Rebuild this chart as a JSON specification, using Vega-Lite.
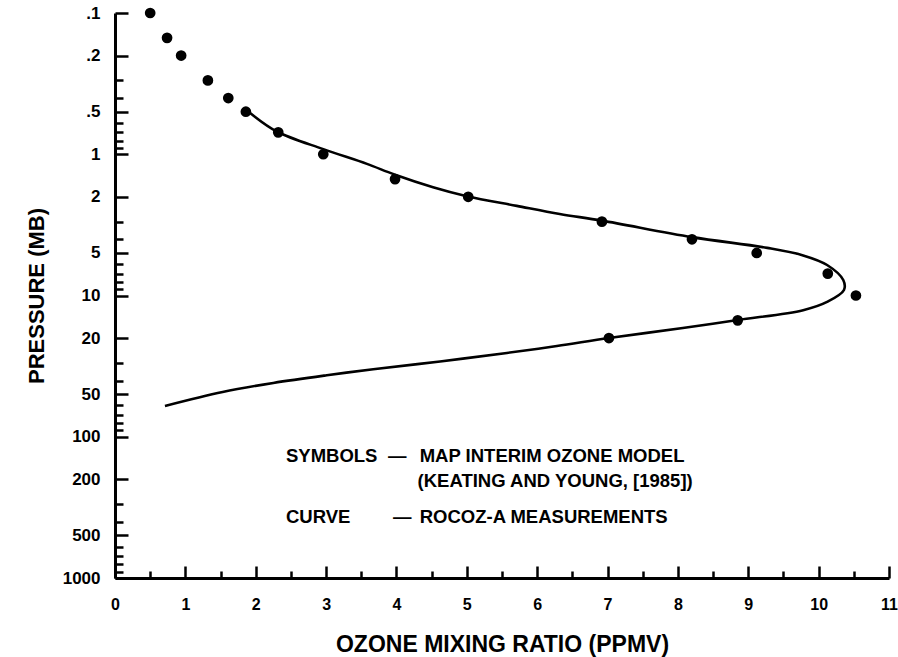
{
  "$schema": "https://vega.github.io/schema/vega-lite/v6.json",
  "width": 774,
  "height": 565,
  "autosize": {"type": "none"},
  "padding": {"left": 115, "top": 13, "right": 9, "bottom": 79},
  "background": "white",
  "config": {
    "view": {"stroke": null},
    "font": "Liberation Sans",
    "axis": {
      "grid": false,
      "domainColor": "black",
      "domainWidth": 3,
      "tickColor": "black",
      "tickWidth": 2.5,
      "labelColor": "black",
      "labelFont": "Liberation Sans",
      "labelFontWeight": "bold",
      "titleColor": "black",
      "titleFont": "Liberation Sans",
      "titleFontWeight": "bold",
      "titleFontSize": 23
    }
  },
  "datasets": {
    "model": [
      {"x": 0.5, "p": 0.1}, {"x": 0.74, "p": 0.15}, {"x": 0.94, "p": 0.2},
      {"x": 1.32, "p": 0.3}, {"x": 1.61, "p": 0.4}, {"x": 1.86, "p": 0.5},
      {"x": 2.32, "p": 0.7}, {"x": 2.96, "p": 1}, {"x": 3.98, "p": 1.5},
      {"x": 5.02, "p": 2}, {"x": 6.92, "p": 3}, {"x": 8.2, "p": 4},
      {"x": 9.12, "p": 5}, {"x": 10.13, "p": 7}, {"x": 10.53, "p": 10},
      {"x": 8.85, "p": 15}, {"x": 7.02, "p": 20}
    ],
    "rocoz": [
      {"x": 1.92, "p": 0.51}, {"x": 2.3, "p": 0.69}, {"x": 2.96, "p": 0.92},
      {"x": 3.58, "p": 1.17}, {"x": 3.97, "p": 1.39}, {"x": 4.52, "p": 1.71},
      {"x": 5.0, "p": 1.98}, {"x": 5.71, "p": 2.32}, {"x": 6.32, "p": 2.65},
      {"x": 6.92, "p": 2.95}, {"x": 8.2, "p": 3.86}, {"x": 9.27, "p": 4.6},
      {"x": 9.78, "p": 5.2}, {"x": 10.12, "p": 6.08}, {"x": 10.35, "p": 7.77},
      {"x": 10.36, "p": 9.14}, {"x": 10.12, "p": 11.1}, {"x": 9.78, "p": 12.7},
      {"x": 8.85, "p": 14.9}, {"x": 8.07, "p": 17.0}, {"x": 7.02, "p": 20.0},
      {"x": 6.28, "p": 22.8}, {"x": 5.57, "p": 25.5}, {"x": 4.62, "p": 29.3},
      {"x": 3.67, "p": 33.3}, {"x": 3.01, "p": 36.7}, {"x": 2.25, "p": 41.6},
      {"x": 1.53, "p": 48.2}, {"x": 0.71, "p": 60.5}
    ],
    "notes": [
      {"t": "SYMBOLS", "x": 2.43, "p": 151},
      {"t": "—", "x": 3.88, "p": 151},
      {"t": "MAP INTERIM OZONE MODEL", "x": 4.33, "p": 151},
      {"t": "(KEATING AND YOUNG, [1985])", "x": 4.3, "p": 227},
      {"t": "CURVE", "x": 2.43, "p": 408},
      {"t": "—", "x": 3.95, "p": 408},
      {"t": "ROCOZ-A MEASUREMENTS", "x": 4.33, "p": 408}
    ]
  },
  "encoding": {
    "x": {
      "field": "x",
      "type": "quantitative",
      "scale": {"domain": [0, 11], "nice": false, "zero": false},
      "axis": {
        "title": "OZONE MIXING RATIO (PPMV)",
        "values": [0, 0.5, 1, 1.5, 2, 2.5, 3, 3.5, 4, 4.5, 5, 5.5, 6, 6.5, 7, 7.5, 8, 8.5, 9, 9.5, 10, 10.5, 11],
        "labelExpr": "datum.value % 1 === 0 ? toString(datum.value) : ''",
        "tickSize": {"condition": {"test": "datum.value % 1 === 0", "value": -12}, "value": -7},
        "labelPadding": 30,
        "labelFontSize": 16,
        "labelFlush": false,
        "titlePadding": 21
      }
    },
    "y": {
      "field": "p",
      "type": "quantitative",
      "scale": {"type": "log", "domain": [0.1, 1000], "reverse": true, "nice": false},
      "axis": {
        "title": "PRESSURE (MB)",
        "values": [0.1, 0.2, 0.3, 0.4, 0.5, 0.6, 0.7, 0.8, 0.9, 1, 2, 3, 4, 5, 6, 7, 8, 9, 10, 20, 30, 40, 50, 60, 70, 80, 90, 100, 200, 300, 400, 500, 600, 700, 800, 900, 1000],
        "labelExpr": "indexof([0.1, 0.2, 0.5, 1, 2, 5, 10, 20, 50, 100, 200, 500, 1000], datum.value) >= 0 ? replace(toString(datum.value), '0.', '.') : ''",
        "tickSize": {"condition": {"test": "indexof([0.1, 0.2, 0.5, 1, 2, 5, 10, 20, 50, 100, 200, 500, 1000], datum.value) >= 0", "value": -13}, "value": -8},
        "labelPadding": 28,
        "labelFontSize": 17,
        "labelFlush": false,
        "titleFontSize": 22,
        "titlePadding": 14
      }
    }
  },
  "layer": [
    {
      "data": {"name": "rocoz"},
      "mark": {"type": "line", "color": "black", "strokeWidth": 2.6, "interpolate": "catmull-rom"},
      "encoding": {"order": {"field": "p", "type": "quantitative"}}
    },
    {
      "data": {"name": "model"},
      "mark": {"type": "circle", "color": "black", "opacity": 1, "size": 115}
    },
    {
      "data": {"name": "notes"},
      "mark": {"type": "text", "font": "Liberation Sans", "fontWeight": "bold", "fontSize": 18.5, "color": "black", "align": "left", "baseline": "alphabetic"},
      "encoding": {"text": {"field": "t", "type": "nominal"}}
    }
  ]
}
